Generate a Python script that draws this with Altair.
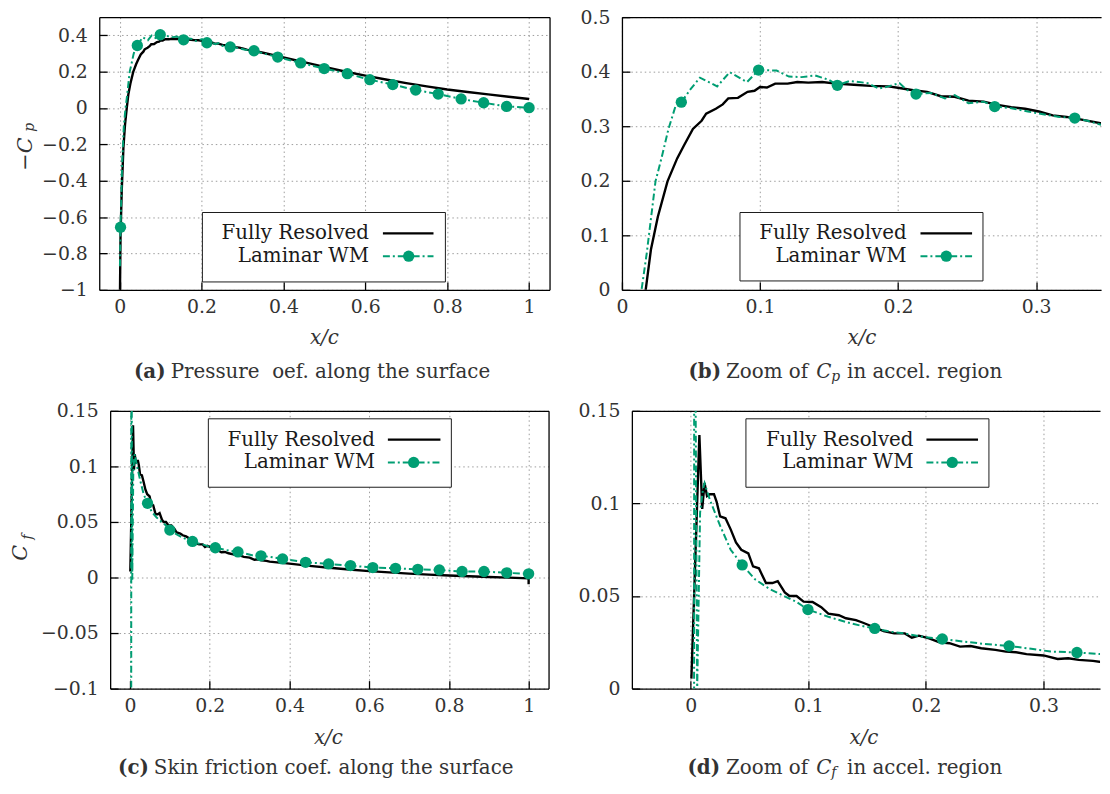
import altair as alt
import pandas as pd

# ---------------- data ----------------
# -Cp, fully resolved
cp_fr_x = [0.0005, 0.002, 0.005, 0.009, 0.013, 0.0172, 0.021, 0.026, 0.033, 0.040, 0.045, 0.0514,
           0.0577, 0.061, 0.068, 0.073, 0.077, 0.084, 0.091, 0.096, 0.100, 0.105, 0.111, 0.120,
           0.127, 0.135, 0.145, 0.155, 0.168, 0.180, 0.193, 0.201, 0.211, 0.221, 0.231, 0.241,
           0.251, 0.262, 0.272, 0.282, 0.292, 0.302, 0.312, 0.322, 0.332, 0.350, 0.40, 0.45,
           0.50, 0.55, 0.60, 0.65, 0.70, 0.75, 0.80, 0.85, 0.90, 0.95, 1.0]
cp_fr_y = [-1.05, -0.70, -0.45, -0.22, -0.09, 0.0, 0.074, 0.134, 0.199, 0.241, 0.265, 0.295,
           0.310, 0.323, 0.332, 0.340, 0.351, 0.352, 0.363, 0.365, 0.372, 0.371, 0.378, 0.378,
           0.381, 0.380, 0.381, 0.378, 0.376, 0.374, 0.373, 0.370, 0.366, 0.363, 0.355, 0.354,
           0.347, 0.345, 0.339, 0.335, 0.332, 0.327, 0.320, 0.317, 0.3125, 0.304, 0.278, 0.252,
           0.226, 0.201, 0.178, 0.157, 0.137, 0.119, 0.102, 0.088, 0.075, 0.062, 0.05]

# -Cp, laminar wall model (line)
cp_wm_x = [0.0005, 0.002, 0.006, 0.010, 0.0142, 0.018, 0.0243, 0.0286, 0.0337, 0.0387, 0.043,
           0.050, 0.0565, 0.069, 0.078, 0.0906, 0.099, 0.112, 0.121, 0.130, 0.140, 0.150, 0.156,
           0.165, 0.178, 0.186, 0.193, 0.201, 0.206, 0.213, 0.224, 0.234, 0.241, 0.251, 0.262,
           0.270, 0.282, 0.294, 0.307, 0.317, 0.328, 0.337, 0.348, 0.386, 0.442, 0.4995, 0.556,
           0.611, 0.667, 0.723, 0.778, 0.834, 0.889, 0.945, 1.0]
cp_wm_y = [-0.87, -0.655, -0.30, -0.10, 0.0, 0.068, 0.199, 0.241, 0.295, 0.336, 0.344,
           0.369, 0.389, 0.373, 0.399, 0.381, 0.403, 0.402, 0.391, 0.390, 0.393, 0.385, 0.375,
           0.383, 0.379, 0.369, 0.373, 0.379, 0.367, 0.359, 0.361, 0.351, 0.357, 0.342, 0.345,
           0.336, 0.333, 0.327, 0.321, 0.317, 0.315, 0.310, 0.302, 0.280, 0.248, 0.217, 0.189,
           0.156, 0.129, 0.099, 0.077, 0.050, 0.029, 0.009, 0.002]

# -Cp, laminar wall model (markers)
cp_mk_x = [0.002, 0.043, 0.099, 0.156, 0.213, 0.270, 0.328, 0.386, 0.442, 0.4995, 0.556,
           0.611, 0.667, 0.723, 0.778, 0.834, 0.889, 0.945, 1.0]
cp_mk_y = [-0.655, 0.344, 0.403, 0.375, 0.359, 0.336, 0.315, 0.280, 0.248, 0.217, 0.189,
           0.156, 0.129, 0.099, 0.077, 0.050, 0.029, 0.009, 0.002]

# Cf, fully resolved
cf_fr_x = [0.0006, 0.0074, 0.0098, 0.0118, 0.0139, 0.0163, 0.0198, 0.022, 0.025, 0.0296, 0.034,
           0.0385, 0.043, 0.049, 0.053, 0.058, 0.064, 0.0695, 0.074, 0.080, 0.084, 0.090, 0.096,
           0.1036, 0.111, 0.117, 0.126, 0.132, 0.1405, 0.146, 0.155, 0.164, 0.173, 0.182, 0.188,
           0.194, 0.2027, 0.2115, 0.220, 0.229, 0.238, 0.247, 0.259, 0.268, 0.2766, 0.2855, 0.300,
           0.312, 0.321, 0.330, 0.342, 0.350, 0.40, 0.45, 0.50, 0.55, 0.60, 0.65, 0.70, 0.75,
           0.80, 0.85, 0.90, 0.95, 1.0, 1.0]
cf_fr_y = [0.0054, 0.137, 0.097, 0.111, 0.104, 0.105, 0.105, 0.101, 0.093, 0.092, 0.086,
           0.079, 0.075, 0.073, 0.066, 0.065, 0.057, 0.057, 0.058, 0.052, 0.050, 0.050, 0.047,
           0.0468, 0.044, 0.0405, 0.0396, 0.038, 0.037, 0.0357, 0.0334, 0.031, 0.0298, 0.0298, 0.0275,
           0.0286, 0.0271, 0.025, 0.0245, 0.0227, 0.023, 0.0218, 0.0209, 0.020, 0.0196, 0.0186, 0.0179,
           0.016, 0.0164, 0.0155, 0.015, 0.0143, 0.0125, 0.0105, 0.0088, 0.0072, 0.0058, 0.0046, 0.0035, 0.0026,
           0.0018, 0.0011, 0.0005, -0.0001, -0.0008, -0.006]

# Cf, laminar wall model (line)
cf_wm_x = [0.0028, 0.0030, 0.0055, 0.008, 0.0105, 0.0118, 0.0163, 0.025, 0.034, 0.0438, 0.0547,
           0.0666, 0.078, 0.090, 0.0997, 0.117, 0.1317, 0.145, 0.1565, 0.170, 0.182, 0.1967, 0.2139,
           0.232, 0.250, 0.2707, 0.291, 0.306, 0.3284, 0.350, 0.3826, 0.4404, 0.498, 0.553, 0.609,
           0.666, 0.722, 0.776, 0.833, 0.888, 0.945, 1.0]
cf_wm_y = [-0.3, 0.3, -0.002, 0.095, 0.108, 0.111, 0.102, 0.088, 0.075, 0.0668, 0.059,
           0.054, 0.0504, 0.0468, 0.0427, 0.0388, 0.036, 0.0339, 0.0325, 0.0307, 0.0298, 0.028, 0.0268,
           0.0254, 0.0241, 0.023, 0.0214, 0.020, 0.0195, 0.0186, 0.0167, 0.0137, 0.0122, 0.0107, 0.0089,
           0.0083, 0.0074, 0.0068, 0.0054, 0.0054, 0.0042, 0.0033]

# Cf, laminar wall model (markers)
cf_mk_x = [0.0438, 0.0997, 0.1565, 0.2139, 0.2707, 0.3284, 0.3826, 0.4404, 0.498, 0.553,
           0.609, 0.666, 0.722, 0.776, 0.833, 0.888, 0.945, 1.0]
cf_mk_y = [0.0668, 0.0427, 0.0325, 0.0268, 0.023, 0.0195, 0.0167, 0.0137, 0.0122, 0.0107,
           0.0089, 0.0083, 0.0074, 0.0068, 0.0054, 0.0054, 0.0042, 0.0033]

legend_labels = ["Fully Resolved", "Laminar WM"]
xt_full = [0, 0.2, 0.4, 0.6, 0.8, 1]
xt_zoom = [0, 0.1, 0.2, 0.3]
yt_a = [-1, -0.8, -0.6, -0.4, -0.2, 0, 0.2, 0.4]
yt_b = [0, 0.1, 0.2, 0.3, 0.4, 0.5]
yt_c = [-0.1, -0.05, 0, 0.05, 0.1, 0.15]
yt_d = [0, 0.05, 0.1, 0.15]

# ---------------- style ----------------
FONT = "DejaVu Serif"
TXT = "#333333"
LEG = "#1a1a1a"
GREEN = "#009e73"
DASH = [7, 3, 2, 3]
ONE = pd.DataFrame({"k": [0]})


def series(xs, ys):
    return pd.DataFrame({"x": xs, "y": ys, "i": list(range(len(xs)))})


def text(t, x, y, size=20, style="normal", weight="normal", angle=0, align="left", color=TXT):
    return alt.Chart(ONE).mark_text(
        text=t, font=FONT, fontSize=size, fontStyle=style, fontWeight=weight,
        angle=angle, align=align, baseline="middle", color=color
    ).encode(x=alt.value(x), y=alt.value(y))


def panel(fr, wm, mk, xdom, ydom, xt, yt, W, H, right_frame, leg, extras):
    xs = alt.Scale(domain=xdom, nice=False, zero=False)
    ys = alt.Scale(domain=ydom, nice=False, zero=False)
    main_x = alt.Axis(orient="bottom", values=xt, format=".2~f", grid=True, ticks=False,
                      domain=True, labels=True, labelPadding=8, labelFlush=False, title=None)
    main_y = alt.Axis(orient="left", values=yt, format=".2~f", grid=True, ticks=False,
                      domain=True, labels=True, labelPadding=12, labelFlush=False, title=None)
    tick_x = alt.Axis(orient="top", offset=-H, values=xt, grid=False, ticks=True, tickSize=8,
                      labels=False, domain=False, title=None)
    tick_y = alt.Axis(orient="right", offset=-W, values=yt, grid=False, ticks=True, tickSize=8,
                      labels=False, domain=False, title=None)
    top_x = alt.Axis(orient="top", grid=False, ticks=False, labels=False, domain=True, title=None)

    l1 = alt.Chart(series(*fr)).mark_line(color="black", strokeWidth=2.4, clip=True).encode(
        x=alt.X("x:Q", scale=xs, axis=main_x),
        y=alt.Y("y:Q", scale=ys, axis=main_y),
        order="i:Q")
    l2 = alt.Chart(series(*wm)).mark_line(color=GREEN, strokeWidth=2, strokeDash=DASH, clip=True).encode(
        x=alt.X("x:Q", scale=xs, axis=tick_x),
        y=alt.Y("y:Q", scale=ys, axis=tick_y),
        order="i:Q")
    if right_frame:
        y3 = alt.Y("y:Q", scale=ys, axis=alt.Axis(orient="right", grid=False, ticks=False,
                                                  labels=False, domain=True, title=None))
    else:
        y3 = alt.Y("y:Q", scale=ys, axis=None)
    l3 = alt.Chart(series(*mk)).mark_circle(color=GREEN, size=130, opacity=1, clip=True).encode(
        x=alt.X("x:Q", scale=xs, axis=top_x), y=y3)

    bx0, bx1, by0, by1, tr, s0, s1, mx, r1, r2 = leg
    box = alt.Chart(ONE).mark_rect(fill="white", stroke=LEG, strokeWidth=1).encode(
        x=alt.value(bx0), x2=alt.value(bx1), y=alt.value(by0), y2=alt.value(by1))
    t1 = text(legend_labels[0], tr, r1, align="right", color=LEG)
    t2 = text(legend_labels[1], tr, r2, align="right", color=LEG)
    sl1 = alt.Chart(ONE).mark_rule(color="black", strokeWidth=2.4).encode(
        x=alt.value(s0), x2=alt.value(s1), y=alt.value(r1))
    sl2 = alt.Chart(ONE).mark_rule(color=GREEN, strokeWidth=2, strokeDash=DASH).encode(
        x=alt.value(s0), x2=alt.value(s1), y=alt.value(r2))
    sm = alt.Chart(ONE).mark_circle(color=GREEN, size=130, opacity=1).encode(
        x=alt.value(mx), y=alt.value(r2))
    return alt.layer(l1, l2, l3, box, t1, t2, sl1, sl2, sm, *extras).resolve_axis(
        x="independent", y="independent").properties(width=W, height=H)


H1 = 275
H2 = 280
pa = panel((cp_fr_x, cp_fr_y), (cp_wm_x, cp_wm_y), (cp_mk_x, cp_mk_y),
           [-0.05, 1.05], [-1, 0.5], xt_full, yt_a, 454, H1, True,
           (104, 349, 197, 267, 272, 286, 337, 312, 218, 241),
           [text("\u2212C", -74, 138, size=21, style="italic", angle=270, align="center"),
            text("p", -70, 111, size=14, style="italic", angle=270, align="center"),
            text("x/c", 227, 324, style="italic", align="center"),
            text("(a)", 35, 358, weight="bold"),
            text("Pressure\u00a0\u00a0oef. along the surface", 72, 358)])
pb = panel((cp_fr_x, cp_fr_y), (cp_wm_x, cp_wm_y), (cp_mk_x, cp_mk_y),
           [0, 0.347], [0, 0.5], xt_zoom, yt_b, 483, H1, False,
           (119, 364, 197, 266, 287, 301, 353, 327, 218, 241),
           [text("x/c", 242, 324, style="italic", align="center"),
            text("(b)", 67, 358, weight="bold"),
            text("Zoom of", 105, 358),
            text("C", 196, 358, style="italic"),
            text("p", 211, 363, size=14, style="italic"),
            text("in accel. region", 227, 358)])
pc = panel((cf_fr_x, cf_fr_y), (cf_wm_x, cf_wm_y), (cf_mk_x, cf_mk_y),
           [-0.05, 1.05], [-0.1, 0.15], xt_full, yt_c, 442, H2, True,
           (99, 344, 8, 77, 267, 280, 333, 306, 29, 52),
           [text("C", -90, 143, size=21, style="italic", angle=270, align="center"),
            text("f", -83, 127, size=14, style="italic", angle=270, align="center"),
            text("x/c", 220, 330, style="italic", align="center"),
            text("(c)", 8, 360, weight="bold"),
            text("Skin friction coef. along the surface", 44, 360)])
pd_ = panel((cf_fr_x, cf_fr_y), (cf_wm_x, cf_wm_y), (cf_mk_x, cf_mk_y),
            [-0.05, 0.348], [0, 0.15], xt_zoom, yt_d, 472, H2, False,
            (115, 360, 8, 77, 284, 297, 349, 323, 29, 52),
            [text("x/c", 234, 330, style="italic", align="center"),
             text("(d)", 56, 360, weight="bold"),
             text("Zoom of", 95, 360),
             text("C", 186, 360, style="italic"),
             text("f", 201, 365, size=14, style="italic"),
             text("in accel. region", 217, 360)])

sp = alt.Chart(ONE).mark_point(opacity=0).encode(
    x=alt.value(0), y=alt.value(0)).properties(width=1, height=H1)

row1 = alt.hconcat(sp, pa, pb, spacing=73, bounds="flush")
row2 = alt.hconcat(sp, pc, pd_, spacing=84, bounds="flush")

# with flush bounds the nested rows count as zero-height, so spacing = row pitch
chart = alt.vconcat(row1, row2, spacing=397, bounds="flush").properties(
    padding={"left": 1, "top": -4, "right": 0, "bottom": 0}
).configure_view(stroke="transparent").configure_axis(
    labelFont=FONT, labelFontSize=19, labelColor=TXT,
    gridColor="#9c9c9c", gridDash=[1.5, 3], gridWidth=1,
    domainColor="black", domainWidth=1.3, tickColor="black", tickWidth=1.3
)

chart.save("out.html", embed_options={"renderer": "svg", "actions": False})
